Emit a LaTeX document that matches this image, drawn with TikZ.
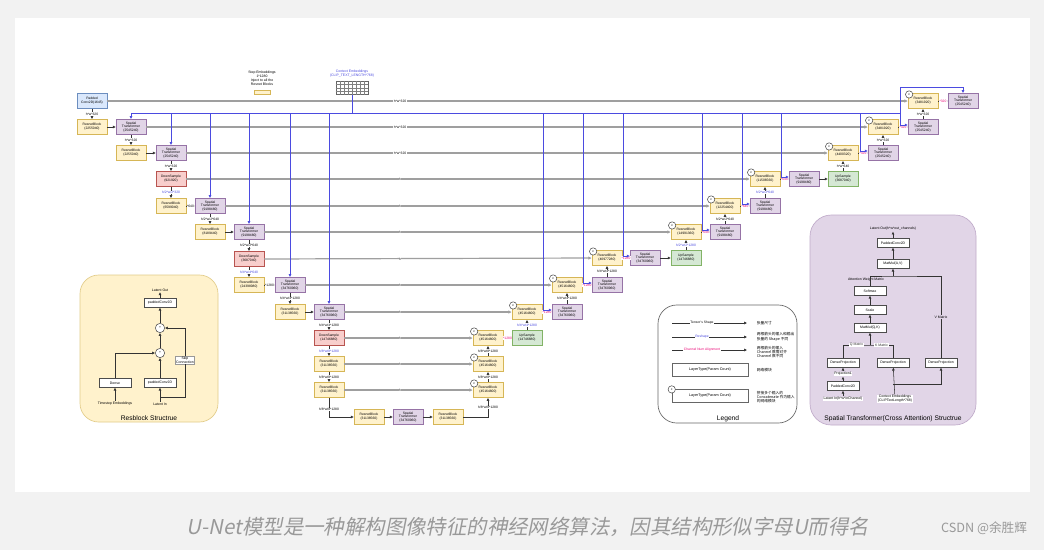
\documentclass[tikz,border=0pt]{standalone}
\usepackage{fontspec}
\setmainfont{Liberation Sans}
\newfontfamily\cjk{Noto Sans CJK SC}
\newfontfamily\cjksl{Noto Sans CJK SC}[FakeSlant=0.2]
\usetikzlibrary{arrows.meta,calc}
\definecolor{rbf}{HTML}{FFF2CC}\definecolor{rbd}{HTML}{D6B656}
\definecolor{stf}{HTML}{E1D5E7}\definecolor{std}{HTML}{9673A6}
\definecolor{dsf}{HTML}{F8CECC}\definecolor{dsd}{HTML}{B85450}
\definecolor{usf}{HTML}{D5E8D4}\definecolor{usd}{HTML}{82B366}
\definecolor{pcf}{HTML}{DAE8FC}\definecolor{pcd}{HTML}{6C8EBF}
\definecolor{ctx}{HTML}{4B4BE0}
\tikzset{
 blk/.style={draw,line width=0.3pt,minimum width=22.5pt,minimum height=11.5pt,inner sep=0.3pt,align=center,font=\fontsize{2.5}{2.9}\selectfont},
 rb/.style={blk,fill=rbf,draw=rbd},
 stb/.style={blk,fill=stf,draw=std},
 dsb/.style={blk,fill=dsf,draw=dsd},
 usb/.style={blk,fill=usf,draw=usd},
 pcb/.style={blk,fill=pcf,draw=pcd},
 skipl/.style={draw=gray!75,line width=0.9pt,-{Latex[length=2.5pt,width=2.5pt]}},
 arr/.style={draw=black!80,line width=0.4pt,-{Latex[length=2.2pt,width=2.2pt]}},
 bl/.style={draw=ctx,line width=0.45pt},
 bla/.style={bl,-{Latex[length=2.2pt,width=2.2pt]}},
 lab/.style={font=\fontsize{2.5}{2.9}\selectfont,fill=white,inner sep=0.4pt,align=center},
 blab/.style={lab,text=ctx},
 plab/.style={lab,text=magenta!80!red},
 cc/.style={draw=black!70,fill=white,circle,inner sep=0pt,minimum size=5.5pt,font=\fontsize{2.5}{3}\selectfont},
 pbox/.style={draw=black!70,fill=white,line width=0.35pt,minimum width=24pt,minimum height=6.5pt,inner sep=0.3pt,font=\fontsize{2.6}{3}\selectfont},
 tx/.style={font=\fontsize{2.6}{3}\selectfont,align=center,inner sep=0.5pt},
}
\begin{document}
\begin{tikzpicture}[x=0.75pt,y=-0.75pt]
\useasboundingbox (0,0) rectangle (1044,550);
\fill[black!5] (0,0) rectangle (1044,550);
\fill[white] (15,18) rectangle (1030,492);
% panels
\draw[fill=rbf,draw=rbd!70,line width=0.5pt,rounded corners=14pt] (80,275) rectangle (218,422);
\draw[fill=stf,draw=std!60,line width=0.5pt,rounded corners=16pt] (810,215) rectangle (976,425);
\draw[fill=white,draw=black!60,line width=0.5pt,rounded corners=14pt] (658,305) rectangle (797,423);
% ===== encoder =====
\node[pcb] (pc) at (92,101) {Padded\\Conv2D(1645)};
\node[rb] (e1) at (92,127) {ResnetBlock\\(2255040)};
\node[stb] (s1) at (131,127) {Spatial\\Transformer\\(2545240)};
\node[rb] (e2) at (131,153) {ResnetBlock\\(2255040)};
\node[stb] (s2) at (171,153) {Spatial\\Transformer\\(2545240)};
\node[dsb] (d1) at (171,179) {DownSample\\(921920)};
\node[rb] (e3) at (171,206) {ResnetBlock\\(6599040)};
\node[stb] (s3) at (210,206) {Spatial\\Transformer\\(9198480)};
\node[rb] (e4) at (210,232) {ResnetBlock\\(8189440)};
\node[stb] (s4) at (249,232) {Spatial\\Transformer\\(9198480)};
\node[dsb] (d2) at (249,259) {DownSample\\(3687040)};
\node[rb] (e5) at (249,285) {ResnetBlock\\(24398080)};
\node[stb] (s5) at (290,285) {Spatial\\Transformer\\(34760960)};
\node[rb] (e6) at (290,312) {ResnetBlock\\(31138560)};
\node[stb] (s6) at (329,312) {Spatial\\Transformer\\(34760960)};
\node[dsb] (d3) at (329,338) {DownSample\\(14746880)};
\node[rb] (e7) at (329,364) {ResnetBlock\\(31138560)};
\node[rb] (e8) at (329,390) {ResnetBlock\\(31138560)};
\node[rb] (m1) at (369,417) {ResnetBlock\\(31138560)};
\node[stb] (m2) at (408,417) {Spatial\\Transformer\\(34760960)};
\node[rb] (m3) at (448,417) {ResnetBlock\\(31138560)};
% ===== decoder =====
\node[rb] (r1) at (488,390) {ResnetBlock\\(45164800)};
\node[rb] (r2) at (488,364) {ResnetBlock\\(45164800)};
\node[rb] (r3) at (488,338) {ResnetBlock\\(45164800)};
\node[usb] (u1) at (527,338) {UpSample\\(14746880)};
\node[rb] (r4) at (527,312) {ResnetBlock\\(45164800)};
\node[stb] (t4) at (567,312) {Spatial\\Transformer\\(34760960)};
\node[rb] (r5) at (567,285) {ResnetBlock\\(45164800)};
\node[stb] (t5) at (607,285) {Spatial\\Transformer\\(34760960)};
\node[rb] (r6) at (607,258) {ResnetBlock\\(40977280)};
\node[stb] (t6) at (645,258) {Spatial\\Transformer\\(34760960)};
\node[usb] (u2) at (686,258) {UpSample\\(14746880)};
\node[rb] (r7) at (686,232) {ResnetBlock\\(14991360)};
\node[stb] (t7) at (725,232) {Spatial\\Transformer\\(9198480)};
\node[rb] (r8) at (725,206) {ResnetBlock\\(12254400)};
\node[stb] (t8) at (765,206) {Spatial\\Transformer\\(9198480)};
\node[rb] (r9) at (765,179) {ResnetBlock\\(11506560)};
\node[stb] (t9) at (804,179) {Spatial\\Transformer\\(9198480)};
\node[usb] (u3) at (843,179) {UpSample\\(3687040)};
\node[rb] (r10) at (843,153) {ResnetBlock\\(4400320)};
\node[stb] (t10) at (883,153) {Spatial\\Transformer\\(2545240)};
\node[rb] (r11) at (883,127) {ResnetBlock\\(3481920)};
\node[stb] (t11) at (923,127) {Spatial\\Transformer\\(2545240)};
\node[rb] (r12) at (923,101) {ResnetBlock\\(3481920)};
\node[stb] (t12) at (963,101) {Spatial\\Transformer\\(2545240)};
\foreach \n in {r1,r2,r3,r4,r5,r6,r7,r8,r9,r10,r11,r12}{\node[cc] at ([xshift=1pt,yshift=-1pt]\n.north west) {c};}
% ===== skip lines =====
\coordinate (xref) at (400,0);
\foreach \a/\b/\t in {pc/r12/h*w*320,s1/r11/h*w*320,s2/r10/h*w*320,d1/r9/h/2*w/2*320,s3/r8/h/2*w/2*640,s4/r7/h/2*w/2*640,d2/r6/h/4*w/4*640,s5/r5/h/4*w/4*1280,s6/r4/h/4*w/4*1280,d3/r3/h/8*w/8*1280,e7/r2/h/8*w/8*1280,e8/r1/h/8*w/8*1280}{
 \path[skipl] (\a.east) -- (\b.west);
 \node[lab] at (\a.east -| xref) {\t};}
% ===== encoder arrows =====
\path[arr] (pc) -- node[lab] {h*w*320} (e1);
\path[arr] (e1) -- (s1);
\path[arr] (s1) -- node[lab] {h*w*320} (e2);
\path[arr] (e2) -- (s2);
\path[arr] (s2) -- node[lab] {h*w*320} (d1);
\path[arr] (d1) -- node[blab] {h/2*w/2*320} (e3);
\path[arr] (e3) -- node[lab] {*640} (s3);
\path[arr] (s3) -- node[lab] {h/2*w/2*640} (e4);
\path[arr] (e4) -- (s4);
\path[arr] (s4) -- node[lab] {h/2*w/2*640} (d2);
\path[arr] (d2) -- node[blab] {h/4*w/4*640} (e5);
\path[arr] (e5) -- node[lab] {*1280} (s5);
\path[arr] (s5) -- node[lab] {h/4*w/4*1280} (e6);
\path[arr] (e6) -- (s6);
\path[arr] (s6) -- node[lab] {h/4*w/4*1280} (d3);
\path[arr] (d3) -- node[blab] {h/8*w/8*1280} (e7);
\path[arr] (e7) -- node[lab] {h/8*w/8*1280} (e8);
\path[arr] (e8) |- node[lab,pos=0.3] {h/8*w/8*1280} (m1);
\path[arr] (m1) -- (m2);
\path[arr] (m2) -- (m3);
\path[arr] (m3) -| node[lab,pos=0.75] {h/8*w/8*1280} (r1);
% ===== decoder arrows =====
\path[arr] (r1) -- node[lab] {h/8*w/8*1280} (r2);
\path[arr] (r2) -- node[lab] {h/8*w/8*1280} (r3);
\path[arr] (r3) -- node[plab] {*1280} (u1);
\path[arr] (u1) -- node[blab] {h/4*w/4*1280} (r4);
\path[arr] (r4) -- node[plab] {*1280} (t4);
\path[arr] (t4) -- node[lab] {h/4*w/4*1280} (r5);
\path[arr] (r5) -- node[plab] {*1280} (t5);
\path[arr] (t5) -- node[lab] {h/4*w/4*1280} (r6);
\path[arr] (r6) -- node[plab] {*1280} (t6);
\path[arr] (t6) -- (u2);
\path[arr] (u2) -- node[blab] {h/2*w/2*1280} (r7);
\path[arr] (r7) -- node[plab] {*640} (t7);
\path[arr] (t7) -- node[lab] {h/2*w/2*640} (r8);
\path[arr] (r8) -- node[plab] {*640} (t8);
\path[arr] (t8) -- node[blab] {h/2*w/2*640} (r9);
\path[arr] (r9) -- node[plab] {*640} (t9);
\path[arr] (t9) -- (u3);
\path[arr] (u3) -- node[lab] {h*w*640} (r10);
\path[arr] (r10) -- node[plab] {*320} (t10);
\path[arr] (t10) -- node[lab] {h*w*320} (r11);
\path[arr] (r11) -- node[plab] {*320} (t11);
\path[arr] (t11) -- node[lab] {h*w*320} (r12);
\path[arr] (r12) -- node[plab] {*320} (t12);
% ===== embeddings =====
\node[tx] (stepemb) at (262,78) {Step Embeddings\\1*1280\\Inject to all the\\Resnet Blocks};
\node[draw=rbd,fill=rbf,minimum width=12pt,minimum height=3pt,inner sep=0pt] (stepbar) at (262,92) {};
\node[tx,text=ctx] (ctxlab) at (352,74) {Context Embeddings\\(CLIP\_TEXT\_LENGTH*768)};
\node[draw=black!60,minimum width=24pt,minimum height=10pt,inner sep=0pt] (grid) at (352,88) {};
\foreach \i in {1,...,7}{\draw[black!50,line width=0.2pt] ($(grid.south west)!\i/8!(grid.south east)$) -- ($(grid.north west)!\i/8!(grid.north east)$);}
\foreach \i in {1,...,3}{\draw[black!50,line width=0.2pt] ($(grid.south west)!\i/4!(grid.north west)$) -- ($(grid.south east)!\i/4!(grid.north east)$);}
\coordinate (bus0) at (131,113);
\coordinate (bus1) at (900,113);
\draw[bl] (grid.south) -- (352,113);
\draw[bl] (bus0) -- (bus1);
\foreach \n in {s1,s2,s3,s4,s5,s6}{\draw[bla] (\n.north |- bus0) -- (\n.north);}
\foreach \n/\x in {t4/543,t5/583,t6/623,t7/702,t8/742,t9/781,t10/860,t11/900}{\draw[bla] (\x,113) |- ([yshift=1.5pt]\n.west);}
\coordinate (topc) at (900,87);
\draw[bla] (bus1) -- (topc) -| (t12.north);
% ===== Resblock panel =====
\node[tx] (rlo) at (160,290) {Latent Out};
\node[pbox] (rpc) at (160,303) {paddedConv2D};
\node[cc,minimum size=7pt] (ra1) at (160,328) {+};
\node[cc,minimum size=7pt] (ra2) at (160,353) {+};
\node[pbox] (rde) at (115,383) {Dense};
\node[pbox] (rpc2) at (160,383) {paddedConv2D};
\node[tx] (rte) at (115,404) {Timestep Embeddings};
\node[tx] (rli) at (160,404) {Latent In};
\node[tx,fill=white,draw=black!40] (rsk) at (185,360) {Skip\\Connection};
\coordinate (rbr) at (160,397);
\path[arr] (rpc) -- (rlo);
\path[arr] (ra1) -- (rpc);
\path[arr] (ra2) -- (ra1);
\path[arr] (rpc2) -- (ra2);
\path[arr] (rli) -- (rpc2);
\path[arr] (rte) -- (rde);
\path[arr] (rde) |- (ra2);
\draw[black!80,line width=0.4pt] (rbr) -| (rsk.south);
\path[arr] (rsk.north) |- (ra1);
\node[font=\fontsize{5}{6}\selectfont] (rtitle) at (149,418) {Resblock Structrue};
% ===== Spatial panel =====
\node[tx] (slo) at (893,229) {Latent Out(h*w*out\_channels)};
\node[pbox] (spc) at (893,243) {PaddedConv2D};
\node[pbox] (smav) at (893,264) {MatMul(A,V)};
\node[tx] (saw) at (866,280) {Attention Weight Matrix};
\node[pbox] (ssm) at (870,291) {Softmax};
\node[pbox] (ssc) at (870,310) {Scale};
\node[pbox] (smqk) at (870,328) {MatMul(Q,K)};
\node[pbox] (sd1) at (843,363) {DenseProjection};
\node[pbox] (sd2) at (893,363) {DenseProjection};
\node[pbox] (sd3) at (941,363) {DenseProjection};
\node[tx,fill=white] (sp1) at (843,374) {Projection1};
\node[pbox] (spc2) at (843,386) {PaddedConv2D};
\node[tx,fill=white] (sli) at (843,399) {Latent In(h*w*inChannel)};
\node[tx,fill=white] (sce) at (895,399) {Context Embeddings\\(CLIPTextLength*768)};
\node[tx,fill=stf] (svm) at (941,317) {V Matrix};
\coordinate (sj) at (870,345);
\coordinate (sat) at (893,276);
\coordinate (scb) at (893,384);
\path[arr] (spc) -- (slo);
\path[arr] (smav) -- (spc);
\draw[black!80,line width=0.4pt] (sd1.north) |- node[tx,fill=white,pos=0.75] {Q Matrix} (sj) -| node[tx,fill=white,pos=0.25] {K Matrix} (sd2.north);
\path[arr] (sj) -- (smqk);
\path[arr] (smqk) -- (ssc);
\path[arr] (ssc) -- (ssm);
\draw[black!80,line width=0.4pt] (ssm.north) |- (sat) -| (svm.north);
\draw[black!80,line width=0.4pt] (svm.south) -- (sd3.north);
\path[arr] (sat) -- (smav);
\path[arr] (sp1) -- (sd1);
\path[arr] (spc2) -- (sp1);
\path[arr] (sli) -- (spc2);
\path[arr] (sce) -- (sd2);
\path[arr] (scb) -| (sd3.south);
\node[font=\fontsize{5}{6}\selectfont] (stitle) at (893,419) {Spatial Transformer(Cross Attention) Structrue};
% ===== Legend =====
\coordinate (l1a) at (672,323);\coordinate (l1b) at (747,323);
\coordinate (l2a) at (672,337);\coordinate (l2b) at (747,337);
\coordinate (l3a) at (672,350);\coordinate (l3b) at (747,350);
\path[arr] (l1a) -- node[lab,pos=0.4] {Tensor's Shape} (l1b);
\path[arr] (l2a) -- node[blab,pos=0.4] {Reshape} (l2b);
\path[arr] (l3a) -- node[plab,pos=0.4] {Channel Num Alignment} (l3b);
\node[tx,anchor=west,font=\cjk\fontsize{2.8}{3.3}\selectfont,align=left] (lt1) at (756,323) {张量尺寸};
\node[tx,anchor=west,font=\cjk\fontsize{2.8}{3.3}\selectfont,align=left] (lt2) at (756,337) {两根箭头的输入和输出\\张量的 Shape 不同};
\node[tx,anchor=west,font=\cjk\fontsize{2.8}{3.3}\selectfont,align=left] (lt3) at (756,352) {两根箭头的输入\\Channel 数需对齐\\Channel 数不同};
\node[draw=black!60,minimum width=57pt,minimum height=9.5pt,inner sep=0pt,font=\fontsize{2.8}{3.2}\selectfont] (lb1) at (710,370) {LayerType(Param Count)};
\node[tx,anchor=west,font=\cjk\fontsize{2.8}{3.3}\selectfont] (lt4) at (756,370) {网络模块};
\node[draw=black!60,minimum width=57pt,minimum height=9.5pt,inner sep=0pt,font=\fontsize{2.8}{3.2}\selectfont] (lb2) at (710,396) {LayerType(Param Count)};
\node[cc] at (lb2.north west) {c};
\node[tx,anchor=west,font=\cjk\fontsize{2.8}{3.3}\selectfont,align=left] (lt5) at (756,397) {拼接多个输入的\\Concatenate 作为输入\\的网络模块};
\node[font=\fontsize{5}{6}\selectfont] (ltitle) at (728,419) {Legend};
% ===== caption =====
\node[text=black!40,font=\cjksl\fontsize{15.3}{18}\selectfont] (cap) at (528,527) {U-Net模型是一种解构图像特征的神经网络算法，因其结构形似字母U而得名};
\node[text=black!40,font=\cjk\fontsize{9.5}{11}\selectfont] (csdn) at (984,528) {CSDN @余胜辉};
\end{tikzpicture}
\end{document}
